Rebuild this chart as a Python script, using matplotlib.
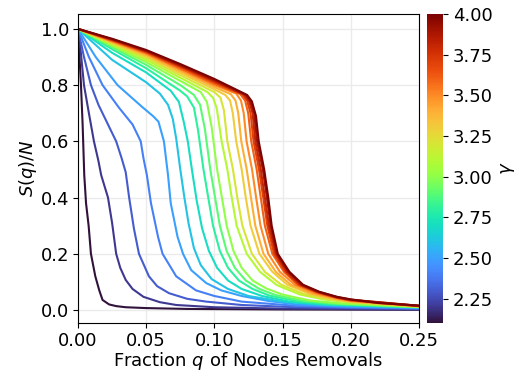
import matplotlib
matplotlib.use("Agg")
import matplotlib.pyplot as plt
import numpy as np

# gamma values (one curve each)
gammas = [2.1, 2.2, 2.3, 2.4, 2.5, 2.6, 2.7, 2.8, 2.9, 3.0,
          3.1, 3.2, 3.3, 3.4, 3.5, 3.6, 3.7, 3.8, 3.9, 4.0]

# fraction of removed nodes q and relative giant component S(q)/N
q_21 = [0, 0.0022, 0.0034, 0.0046, 0.0059, 0.0078, 0.0095, 0.0127, 0.0156, 0.018, 0.0228, 0.028, 0.035, 0.05, 0.08, 0.15, 0.25]
s_21 = [1.0, 0.80, 0.66, 0.48, 0.38, 0.30, 0.20, 0.12, 0.07, 0.036, 0.02, 0.014, 0.01, 0.007, 0.004, 0.002, 0.001]

q_22 = [0, 0.002, 0.0044, 0.008, 0.0117, 0.015, 0.017, 0.022, 0.025, 0.028, 0.031, 0.035, 0.04, 0.048, 0.06, 0.072, 0.1, 0.15, 0.25]
s_22 = [1.0, 0.92, 0.80, 0.70, 0.60, 0.53, 0.48, 0.40, 0.31, 0.20, 0.15, 0.107, 0.075, 0.047, 0.028, 0.018, 0.01, 0.005, 0.002]

q_23 = [0, 0.0044, 0.0095, 0.015, 0.022, 0.028, 0.032, 0.035, 0.0375, 0.041, 0.0447, 0.052, 0.058, 0.0667, 0.08, 0.094, 0.12, 0.16, 0.25]
s_23 = [1.0, 0.90, 0.80, 0.73, 0.66, 0.60, 0.54, 0.49, 0.40, 0.29, 0.20, 0.12, 0.085, 0.06, 0.04, 0.03, 0.018, 0.01, 0.004]

q_24 = [0, 0.008, 0.018, 0.030, 0.040, 0.046, 0.048, 0.0505, 0.0535, 0.0587, 0.062, 0.072, 0.0865, 0.1, 0.12, 0.16, 0.2, 0.25]
s_24 = [1.0, 0.90, 0.80, 0.72, 0.66, 0.60, 0.54, 0.48, 0.38, 0.26, 0.20, 0.12, 0.07, 0.05, 0.03, 0.015, 0.01, 0.006]

q_25 = [0, 0.013, 0.029, 0.0476, 0.055, 0.059, 0.063, 0.066, 0.068, 0.073, 0.077, 0.083, 0.094, 0.105, 0.12, 0.14, 0.16, 0.2, 0.25]
s_25 = [1.0, 0.90, 0.80, 0.72, 0.69, 0.67, 0.60, 0.48, 0.38, 0.26, 0.20, 0.142, 0.096, 0.07, 0.05, 0.032, 0.02, 0.012, 0.008]

q_26 = [0, 0.025, 0.05, 0.06, 0.066, 0.0695, 0.072, 0.075, 0.078, 0.081, 0.085, 0.09, 0.098, 0.11, 0.125, 0.15, 0.18, 0.25]
s_26 = [1.0, 0.89, 0.81, 0.77, 0.73, 0.68, 0.61, 0.50, 0.40, 0.31, 0.22, 0.16, 0.11, 0.075, 0.05, 0.03, 0.018, 0.009]

q_27 = [0, 0.025, 0.05, 0.068, 0.074, 0.0775, 0.0805, 0.0835, 0.087, 0.091, 0.096, 0.102, 0.11, 0.12, 0.135, 0.155, 0.18, 0.25]
s_27 = [1.0, 0.915, 0.845, 0.78, 0.74, 0.67, 0.60, 0.50, 0.39, 0.29, 0.21, 0.15, 0.105, 0.075, 0.05, 0.03, 0.02, 0.01]

q_28 = [0, 0.025, 0.05, 0.075, 0.08, 0.085, 0.088, 0.092, 0.0955, 0.099, 0.104, 0.11, 0.118, 0.128, 0.14, 0.16, 0.185, 0.25]
s_28 = [1.0, 0.928, 0.86, 0.78, 0.76, 0.72, 0.64, 0.50, 0.40, 0.30, 0.21, 0.15, 0.105, 0.075, 0.052, 0.032, 0.021, 0.01]

q_29 = [0, 0.025, 0.05, 0.075, 0.085, 0.0895, 0.093, 0.097, 0.1005, 0.104, 0.109, 0.115, 0.123, 0.133, 0.145, 0.165, 0.19, 0.25]
s_29 = [1.0, 0.935, 0.872, 0.80, 0.765, 0.73, 0.645, 0.50, 0.40, 0.30, 0.21, 0.15, 0.105, 0.075, 0.053, 0.033, 0.022, 0.011]

q_30 = [0, 0.025, 0.05, 0.075, 0.09, 0.0945, 0.098, 0.102, 0.1055, 0.109, 0.114, 0.12, 0.128, 0.138, 0.15, 0.17, 0.195, 0.25]
s_30 = [1.0, 0.94, 0.882, 0.815, 0.775, 0.74, 0.65, 0.50, 0.40, 0.30, 0.21, 0.15, 0.105, 0.077, 0.055, 0.034, 0.023, 0.011]

q_31 = [0, 0.025, 0.05, 0.075, 0.095, 0.099, 0.1017, 0.1053, 0.1095, 0.1127, 0.1163, 0.1237, 0.1334, 0.1457, 0.1628, 0.18, 0.2, 0.25]
s_31 = [1.0, 0.944, 0.89, 0.826, 0.775, 0.755, 0.718, 0.60, 0.50, 0.40, 0.30, 0.20, 0.136, 0.089, 0.055, 0.038, 0.027, 0.012]

q_32 = [0, 0.025, 0.05, 0.075, 0.1, 0.1045, 0.107, 0.1095, 0.1136, 0.1168, 0.1205, 0.1275, 0.137, 0.149, 0.166, 0.183, 0.2, 0.25]
s_32 = [1.0, 0.948, 0.897, 0.835, 0.775, 0.755, 0.71, 0.60, 0.50, 0.40, 0.30, 0.20, 0.136, 0.09, 0.056, 0.038, 0.028, 0.013]

q_33 = [0, 0.025, 0.05, 0.075, 0.1, 0.108, 0.1115, 0.1135, 0.116, 0.120, 0.123, 0.1265, 0.133, 0.1425, 0.1535, 0.17, 0.186, 0.2, 0.25]
s_33 = [1.0, 0.951, 0.903, 0.843, 0.785, 0.765, 0.745, 0.70, 0.60, 0.50, 0.40, 0.30, 0.20, 0.136, 0.09, 0.057, 0.04, 0.029, 0.013]

q_34 = [0, 0.025, 0.05, 0.075, 0.1, 0.112, 0.1155, 0.1175, 0.1197, 0.1237, 0.1268, 0.130, 0.136, 0.145, 0.156, 0.172, 0.188, 0.2, 0.25]
s_34 = [1.0, 0.954, 0.908, 0.85, 0.793, 0.768, 0.745, 0.70, 0.60, 0.50, 0.40, 0.30, 0.20, 0.136, 0.09, 0.058, 0.04, 0.031, 0.014]

q_35 = [0, 0.025, 0.05, 0.075, 0.1, 0.116, 0.1195, 0.1215, 0.1236, 0.1276, 0.1306, 0.1338, 0.1395, 0.148, 0.159, 0.174, 0.19, 0.2, 0.25]
s_35 = [1.0, 0.956, 0.912, 0.856, 0.80, 0.77, 0.745, 0.70, 0.60, 0.50, 0.40, 0.30, 0.20, 0.136, 0.09, 0.06, 0.042, 0.033, 0.014]

q_36 = [0, 0.025, 0.05, 0.075, 0.1, 0.119, 0.1225, 0.1248, 0.127, 0.131, 0.134, 0.137, 0.1425, 0.151, 0.161, 0.175, 0.19, 0.2, 0.25]
s_36 = [1.0, 0.958, 0.915, 0.86, 0.805, 0.768, 0.745, 0.70, 0.60, 0.50, 0.40, 0.30, 0.20, 0.136, 0.09, 0.062, 0.043, 0.034, 0.014]

q_37 = [0, 0.025, 0.05, 0.075, 0.1, 0.1205, 0.124, 0.1265, 0.1287, 0.1327, 0.1358, 0.1388, 0.1438, 0.152, 0.162, 0.176, 0.19, 0.2, 0.25]
s_37 = [1.0, 0.96, 0.918, 0.865, 0.81, 0.768, 0.745, 0.70, 0.60, 0.50, 0.40, 0.30, 0.20, 0.136, 0.09, 0.063, 0.044, 0.035, 0.014]

q_38 = [0, 0.025, 0.05, 0.075, 0.1, 0.122, 0.1255, 0.128, 0.130, 0.134, 0.137, 0.140, 0.145, 0.153, 0.163, 0.176, 0.19, 0.2, 0.25]
s_38 = [1.0, 0.962, 0.92, 0.868, 0.814, 0.765, 0.742, 0.70, 0.60, 0.50, 0.40, 0.30, 0.20, 0.136, 0.09, 0.064, 0.045, 0.036, 0.015]

q_39 = [0, 0.025, 0.05, 0.075, 0.1, 0.123, 0.1265, 0.1292, 0.1313, 0.1355, 0.1385, 0.1412, 0.1458, 0.154, 0.164, 0.176, 0.19, 0.2, 0.25]
s_39 = [1.0, 0.963, 0.922, 0.871, 0.818, 0.765, 0.742, 0.70, 0.60, 0.50, 0.40, 0.30, 0.20, 0.136, 0.09, 0.065, 0.046, 0.037, 0.015]

q_40 = [0, 0.025, 0.05, 0.075, 0.1, 0.124, 0.1275, 0.1305, 0.1325, 0.1365, 0.1395, 0.142, 0.1465, 0.155, 0.165, 0.177, 0.19, 0.2, 0.22, 0.25]
s_40 = [1.0, 0.965, 0.925, 0.875, 0.822, 0.765, 0.742, 0.69, 0.60, 0.50, 0.40, 0.30, 0.20, 0.136, 0.09, 0.065, 0.047, 0.038, 0.025, 0.016]

q_curves = [q_21, q_22, q_23, q_24, q_25, q_26, q_27, q_28, q_29, q_30,
            q_31, q_32, q_33, q_34, q_35, q_36, q_37, q_38, q_39, q_40]
s_curves = [s_21, s_22, s_23, s_24, s_25, s_26, s_27, s_28, s_29, s_30,
            s_31, s_32, s_33, s_34, s_35, s_36, s_37, s_38, s_39, s_40]

x_ticks = [0.0, 0.05, 0.10, 0.15, 0.20, 0.25]
y_ticks = [0.0, 0.2, 0.4, 0.6, 0.8, 1.0]
cbar_ticks = [2.25, 2.50, 2.75, 3.00, 3.25, 3.50, 3.75, 4.00]

plt.rcParams['font.family'] = 'DejaVu Sans'
plt.rcParams['font.size'] = 13

fig = plt.figure(figsize=(5.22, 3.76), dpi=100)
ax = fig.add_axes([0.1494, 0.141, 0.6533, 0.8218])
cax = fig.add_axes([0.818, 0.141, 0.031, 0.8218])

cmap = plt.cm.turbo
norm = matplotlib.colors.Normalize(vmin=min(gammas), vmax=max(gammas))

for g, qs, ss in zip(gammas, q_curves, s_curves):
    ax.plot(qs, ss, color=cmap(norm(g)), lw=1.5)

ax.set_xlim(0, 0.25)
ax.set_ylim(-0.046, 1.053)
ax.set_xticks(x_ticks)
ax.set_yticks(y_ticks)
ax.xaxis.set_major_formatter(matplotlib.ticker.FormatStrFormatter('%.2f'))
ax.yaxis.set_major_formatter(matplotlib.ticker.FormatStrFormatter('%.1f'))
ax.tick_params(pad=3)
ax.grid(True, color='#ebebeb', lw=1)
ax.set_axisbelow(True)
for sp in ax.spines.values():
    sp.set_color('black')
ax.set_xlabel('Fraction $q$ of Nodes Removals', labelpad=0)
ax.set_ylabel('$S(q)/N$', labelpad=1)

sm = matplotlib.cm.ScalarMappable(norm=norm, cmap=cmap)
cb = fig.colorbar(sm, cax=cax)
cb.set_ticks(cbar_ticks)
cb.ax.yaxis.set_major_formatter(matplotlib.ticker.FormatStrFormatter('%.2f'))
cb.outline.set_visible(False)
cb.set_label('$\\gamma$')

fig.savefig('out.png', dpi=100)
